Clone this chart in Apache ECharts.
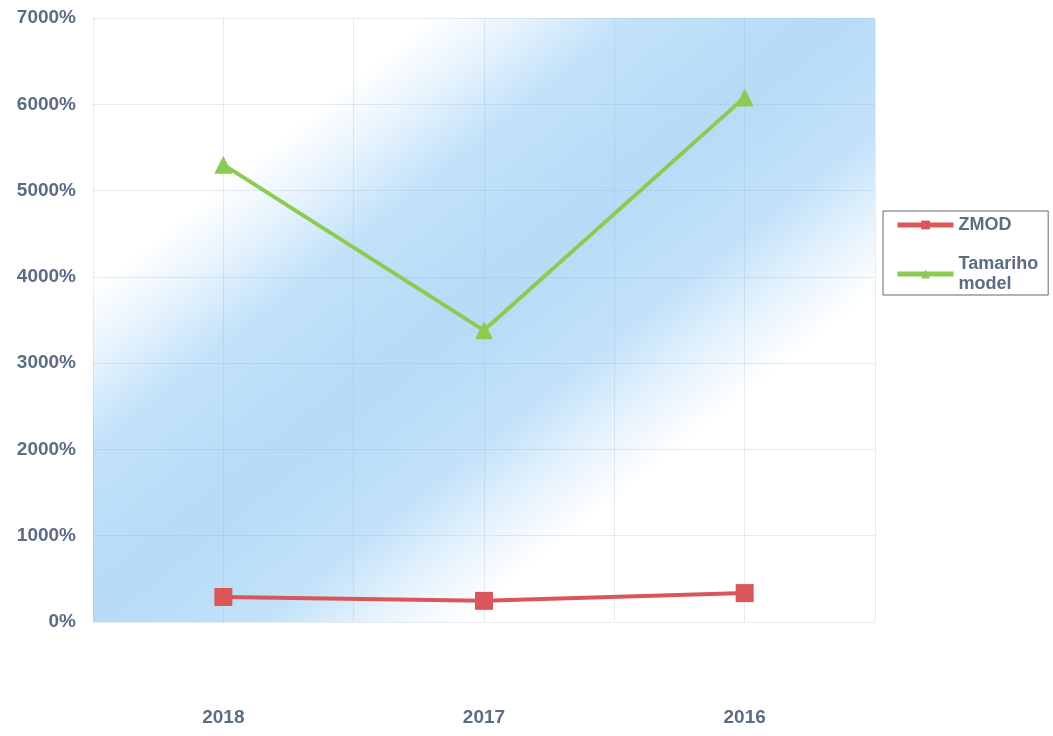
<!DOCTYPE html>
<html>
<head>
<meta charset="utf-8">
<style>
  html, body { margin: 0; padding: 0; background: #fff; }
  #chart { width: 1053px; height: 736px; }
</style>
<script src="https://cdn.jsdelivr.net/npm/echarts@6/dist/echarts.min.js"></script>
</head>
<body>
<div id="chart"></div>
<script>
var years = ['2018', '2017', '2016'];
var zmod = [290, 245, 335];
var tamariho = [5300, 3380, 6080];
var yTicks = [0, 1000, 2000, 3000, 4000, 5000, 6000, 7000];

var textColor = '#5b6c85';
var gridColor = 'rgba(140,170,195,0.22)';
var myChart = echarts.init(document.getElementById('chart'));

// diagonal light-blue band behind the plot, white in the two corners
var plotFill = new echarts.graphic.LinearGradient(93, 18, 693, 769, [
    { offset: 0, color: '#ffffff' },
    { offset: 0.22, color: '#ffffff' },
    { offset: 0.28, color: '#e6f3fd' },
    { offset: 0.35, color: '#c2e2f9' },
    { offset: 0.48, color: '#b6dbf7' },
    { offset: 0.6, color: '#c2e2f9' },
    { offset: 0.67, color: '#e6f3fd' },
    { offset: 0.73, color: '#ffffff' },
    { offset: 1, color: '#ffffff' }
], true);

var option = {
    backgroundColor: '#fff',
    grid: {
        left: 93,
        right: 178,
        top: 18,
        bottom: 114,
        show: true,
        borderWidth: 0,
        backgroundColor: plotFill
    },
    legend: {
        orient: 'vertical',
        left: 883,
        top: 211,
        padding: [4, 10, 1, 12],
        itemGap: 19,
        itemWidth: 56,
        itemHeight: 11,
        borderColor: '#666',
        borderWidth: 1,
        lineStyle: { width: 5 },
        formatter: function (name) { return name.replace(' ', '\n'); },
        textStyle: { color: textColor, fontSize: 18, fontWeight: 'bold', fontFamily: 'Liberation Sans', lineHeight: 20 },
        data: ['ZMOD', 'Tamariho model']
    },
    xAxis: {
        type: 'category',
        data: years,
        boundaryGap: true,
        axisLine: { show: false },
        axisTick: { show: false },
        axisLabel: { margin: 86, color: textColor, fontSize: 19, fontWeight: 'bold', fontFamily: 'Liberation Sans' },
        splitLine: { show: true, interval: 0, lineStyle: { color: gridColor } }
    },
    yAxis: {
        type: 'value',
        min: yTicks[0],
        max: yTicks[yTicks.length - 1],
        interval: 1000,
        axisLine: { show: false },
        axisTick: { show: false },
        axisLabel: {
            formatter: function (v) { return v + '%'; },
            margin: 17, color: textColor, fontSize: 19, fontWeight: 'bold', fontFamily: 'Liberation Sans'
        },
        splitLine: { lineStyle: { color: gridColor } }
    },
    series: [
        {
            name: 'ZMOD',
            type: 'line',
            data: zmod,
            symbol: 'rect',
            symbolSize: 18,
            z: 3,
            itemStyle: { color: '#d9575b' },
            lineStyle: { color: '#d9575b', width: 4 },
            markLine: {
                silent: true,
                symbol: 'none',
                z: 1,
                label: { show: false },
                lineStyle: { color: gridColor, type: 'solid', width: 1 },
                data: years.map(function (y) { return { xAxis: y }; })
            }
        },
        {
            name: 'Tamariho model',
            type: 'line',
            data: tamariho,
            symbol: 'triangle',
            symbolSize: 18,
            z: 3,
            itemStyle: { color: '#8dca52' },
            lineStyle: { color: '#8dca52', width: 4 }
        }
    ]
};
myChart.setOption(option);
</script>
</body>
</html>
